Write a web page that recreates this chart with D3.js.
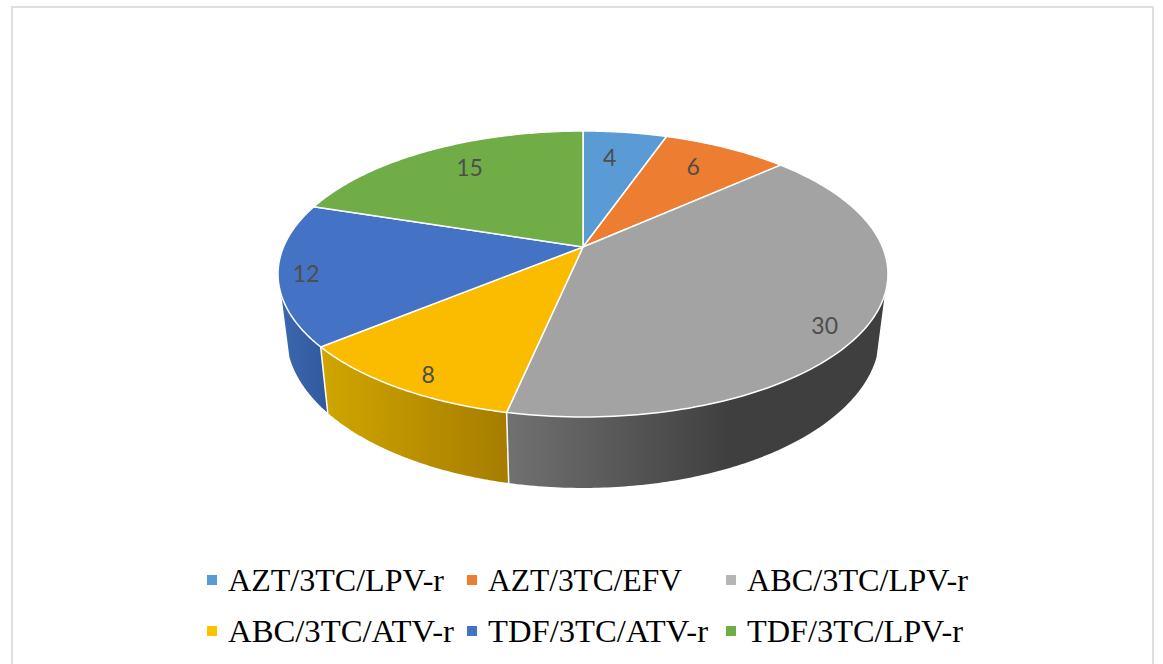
<!DOCTYPE html>
<html>
<head>
<meta charset="utf-8">
<title>Regimen distribution</title>
<script src="https://cdnjs.cloudflare.com/ajax/libs/d3/7.8.5/d3.min.js"></script>
<style>
  html, body { margin: 0; padding: 0; background: #fff; overflow: hidden; }
  svg { display: block; }
</style>
</head>
<body>
<svg id="chart" width="1163" height="664"></svg>
<script>
// Regimens and patient counts
const regimens = ["AZT/3TC/LPV-r", "AZT/3TC/EFV", "ABC/3TC/LPV-r", "ABC/3TC/ATV-r", "TDF/3TC/ATV-r", "TDF/3TC/LPV-r"];
const counts = [4, 6, 30, 8, 12, 15];
const colors = ["#5B9BD5", "#ED7D31", "#A3A3A3", "#FBBC00", "#4472C4", "#70AD47"];
const keyColors = ["#5B9BD5", "#ED7D31", "#B5B5B5", "#FFC000", "#4472C4", "#70AD47"];

// Horizontal shading of the visible side walls, keyed by slice index
const wallShades = {
  2: ["#717171", "#3f3f3f"],
  3: ["#d0a600", "#a67c00"],
  4: ["#3b67b0", "#31599c"]
};

// Label displacement from the slice's reference point, in pixels
const labelShift = [[-10, 10], [-14, 5], [2, 14], [-2, 11], [-19, 3], [19, 4]];

// Legend layout: column anchors, row baselines and fitted text widths
const legendColumns = [228, 488, 747];
const legendRows = [591, 642];
const legendWidths = [216, 194, 221, 226, 220, 216];

const svg = d3.select("#chart");
const W = 1163, H = 664;

// Chart frame, open at the bottom edge of the page
svg.append("path")
  .attr("d", d3.line()([[12, H], [12, 7], [1153, 7], [1153, H]]))
  .attr("fill", "none").attr("stroke", "#dfdfdf").attr("stroke-width", 2);

// Perspective view of a tilted disc: rim radius 1, near side drawn larger.
const persp = 0.1888;
const topDisc = { cx: 583, cy: 247, ax: 299.5, ay: 137.9 };
const baseDisc = { cx: 583, cy: 306, ax: 291.4, ay: 147.6 };

function project(disc, deg, r = 1) {
  const t = deg * Math.PI / 180;
  const X = r * Math.sin(t), Y = r * Math.cos(t);
  const w = 1 + persp * Y;
  return [disc.cx + disc.ax * X / w, disc.cy - disc.ay * Y / w];
}

const slices = d3.pie().sort(null).value(d => d)(counts).map((s, i) => ({
  i,
  value: s.value,
  a0: s.startAngle * 180 / Math.PI,
  a1: s.endAngle * 180 / Math.PI
}));

const line = d3.line();
const arcPoints = (disc, a0, a1) =>
  d3.range(0, 1.0001, 1 / 120).map(f => project(disc, a0 + (a1 - a0) * f));

// The rim wall is only seen between these bearings
const wallFrom = 109, wallTo = 251;

const defs = svg.append("defs");
const walls = svg.append("g");

slices.forEach(s => {
  const a0 = Math.max(s.a0, wallFrom), a1 = Math.min(s.a1, wallTo);
  if (a1 <= a0) return;
  const top = arcPoints(topDisc, a0, a1);
  const base = arcPoints(baseDisc, a0, a1).reverse();
  const xs = top.concat(base).map(p => p[0]);
  const id = "wall-" + s.i;
  // Shading runs toward the dark side, so the grey wall fades left to right
  const grad = defs.append("linearGradient").attr("id", id)
    .attr("gradientUnits", "userSpaceOnUse")
    .attr("x1", d3.min(xs)).attr("x2", s.i === 2 ? 730 : d3.max(xs))
    .attr("y1", 0).attr("y2", 0);
  grad.append("stop").attr("offset", 0).attr("stop-color", wallShades[s.i][0]);
  grad.append("stop").attr("offset", 1).attr("stop-color", wallShades[s.i][1]);
  walls.append("path")
    .attr("d", line(top.concat(base)) + "Z")
    .attr("fill", `url(#${id})`);
});

// White seams where neighbouring walls meet
slices.forEach(s => {
  if (s.a0 > wallFrom && s.a0 < wallTo) {
    walls.append("path")
      .attr("d", line([project(topDisc, s.a0), project(baseDisc, s.a0)]))
      .attr("stroke", "#fff").attr("stroke-width", 1.5).attr("fill", "none");
  }
});

// Top face of the pie
svg.append("g").selectAll("path").data(slices).join("path")
  .attr("d", s => line([[topDisc.cx, topDisc.cy], ...arcPoints(topDisc, s.a0, s.a1)]) + "Z")
  .attr("fill", s => colors[s.i])
  .attr("stroke", "#fff").attr("stroke-width", 1.5).attr("stroke-linejoin", "round");

// Value labels
svg.append("g").selectAll("text").data(slices).join("text")
  .attr("x", s => project(topDisc, (s.a0 + s.a1) / 2, 0.85)[0] + labelShift[s.i][0])
  .attr("y", s => project(topDisc, (s.a0 + s.a1) / 2, 0.85)[1] + labelShift[s.i][1])
  .attr("text-anchor", "middle").attr("dominant-baseline", "central")
  .attr("font-family", "Lato, 'Noto Sans', sans-serif").attr("font-size", 23)
  .attr("fill", "#4d4d4d")
  .text(s => s.value);

// Legend: three columns over two rows
const legend = svg.append("g").selectAll("g").data(regimens).join("g")
  .attr("transform", (d, i) => `translate(${legendColumns[i % 3]},${legendRows[Math.floor(i / 3)]})`);
legend.append("rect")
  .attr("x", -21).attr("y", -16).attr("width", 10).attr("height", 10)
  .attr("fill", (d, i) => keyColors[i]);
legend.append("text")
  .attr("font-family", "'Liberation Serif', serif").attr("font-size", 32)
  .attr("textLength", (d, i) => legendWidths[i])
  .attr("lengthAdjust", "spacingAndGlyphs")
  .attr("fill", "#000")
  .text(d => d);
</script>
</body>
</html>
